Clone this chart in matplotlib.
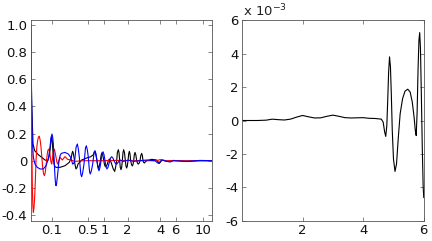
import matplotlib
matplotlib.use("Agg")
import matplotlib.pyplot as plt

plt.rcParams['font.family'] = ['DejaVu Sans']

# ---- left panel data (x in panel-relative units 0..100) ----
red_x = [0, 0.37, 0.92, 1.2, 1.47, 1.8, 2.21, 2.6, 2.95, 3.4, 3.87, 4.3, 4.79, 5.25, 5.71, 6.2,
         6.63, 7.1, 7.55, 8.0, 8.47, 8.9, 9.39, 9.75, 10.13, 10.5, 10.87, 11.2, 11.6, 12.0,
         12.34, 12.7, 13.08, 13.5, 14.0, 14.5, 14.92, 15.6, 16.21, 17.5, 18.97, 20.44, 22.1,
         24.49, 29.1, 38.31, 47.51, 56.72, 69.6, 71.5, 75.1, 100]
red_y = [1.0, 0.44, -0.2, -0.33, -0.38, -0.35, -0.27, -0.14, 0.0, 0.1, 0.15, 0.175, 0.18, 0.15,
         0.1, 0.02, -0.05, -0.095, -0.11, -0.09, -0.04, 0.02, 0.07, 0.083, 0.085, 0.06, 0.025,
         -0.01, -0.025, 0.01, 0.05, 0.078, 0.085, 0.06, 0.025, -0.01, -0.025, 0.0, 0.025, 0.005,
         0.03, 0.01, 0.005, -0.005, 0.0, 0.0, 0.002, 0.0, 0.0, 0.008, 0.0, 0.0]

blue_x = [0, 0.37, 0.92, 1.47, 2.39, 3.68, 5.16, 7.0, 8.47, 9.76, 10.68, 11.2, 11.79, 12.2,
          12.52, 12.9, 13.26, 13.6, 14.0, 14.35, 14.73, 15.2, 15.65, 16.3, 16.94, 18.97, 20.81,
          22.1, 22.65, 23.2, 23.75, 24.31, 24.7, 25.1, 25.78, 26.3, 26.89, 27.3, 27.7, 28.18,
          28.7, 29.47, 29.9, 30.3, 30.75, 31.3, 31.86, 32.3, 32.6, 32.96, 33.6, 34.25, 34.8,
          35.1, 35.54, 36.1, 36.65, 37.2, 37.75, 38.3, 38.86, 39.4, 39.96, 40.5, 41.07, 41.6,
          42.17, 42.8, 43.46, 44.1, 44.75, 45.4, 46.04, 46.8, 47.51, 49.35, 51.2, 53.96, 56.72,
          60.4, 64.09, 68.69, 70.53, 72.37, 76.98, 78.82, 86.19, 93.55, 100]
blue_y = [1.0, 0.56, 0.147, 0.025, -0.025, -0.049, -0.061, -0.061, -0.037, 0.012, 0.098, 0.17,
          0.196, 0.17, 0.123, 0.03, -0.074, -0.15, -0.184, -0.165, -0.123, -0.06, 0.0, 0.04,
          0.054, 0.061, 0.049, 0.025, 0.0, -0.025, -0.02, 0.0, 0.05, 0.1, 0.123, 0.09, 0.025,
          -0.04, -0.1, -0.118, -0.09, -0.025, 0.04, 0.095, 0.11, 0.08, 0.025, -0.05, -0.085,
          -0.098, -0.07, -0.025, 0.035, 0.065, 0.074, 0.05, 0.0, -0.055, -0.074, -0.05, 0.0,
          0.05, 0.066, 0.045, 0.0, -0.045, -0.061, -0.045, -0.012, 0.02, 0.029, 0.02, 0.0,
          -0.02, -0.025, 0.005, -0.005, 0.005, -0.005, 0.0, 0.005, 0.0, -0.02, 0.005, -0.01,
          0.0, -0.005, 0.002, 0.0]

black_x = [0, 0.55, 1.29, 2.21, 4.24, 6.08, 7.92, 9.39, 10.31, 10.7, 11.05, 11.35, 11.6, 11.9,
           12.15, 12.5, 12.89, 13.4, 14.0, 16.21, 18.97, 21.36, 22.47, 22.85, 23.2, 23.55,
           23.94, 24.5, 25.05, 25.6, 26.15, 28.18, 30.94, 33.15, 34.62, 35.1, 35.54, 36.0,
           36.46, 37.0, 37.57, 38.0, 38.49, 38.95, 39.41, 39.85, 40.33, 40.8, 41.25, 41.8,
           42.36, 42.9, 43.46, 44.1, 44.75, 45.6, 46.41, 46.9, 47.51, 47.9, 48.43, 48.8, 49.17,
           49.5, 49.9, 50.3, 50.64, 51.0, 51.38, 51.85, 52.3, 52.65, 53.04, 53.4, 53.78, 54.15,
           54.51, 54.9, 55.25, 55.7, 56.17, 56.55, 56.9, 57.25, 57.64, 58.1, 58.56, 59.0, 59.48,
           59.95, 60.4, 60.85, 61.32, 61.7, 62.06, 62.4, 62.8, 63.4, 64.09, 66.85, 69.61,
           71.09, 72.56, 75.14, 78.82, 86.19, 93.55, 100]
black_y = [1.0, 0.44, 0.123, 0.074, 0.044, 0.025, 0.005, 0.0, 0.037, 0.08, 0.123, 0.16, 0.172,
           0.15, 0.098, 0.03, -0.025, -0.042, -0.049, -0.049, -0.037, -0.012, 0.025, 0.055,
           0.069, 0.055, 0.025, -0.03, -0.061, -0.05, -0.025, 0.005, 0.02, 0.029, 0.044, 0.06,
           0.066, 0.045, 0.012, -0.035, -0.056, -0.035, 0.0, 0.042, 0.059, 0.04, 0.005, -0.03,
           -0.044, -0.04, -0.025, 0.0, 0.012, 0.0, -0.025, -0.06, -0.079, -0.05, 0.0, 0.06,
           0.081, 0.06, 0.0, -0.05, -0.066, -0.047, 0.0, 0.06, 0.081, 0.057, 0.0, -0.04,
           -0.054, -0.038, 0.0, 0.05, 0.069, 0.049, 0.0, -0.028, -0.039, -0.028, 0.0, 0.043,
           0.061, 0.043, 0.0, -0.018, -0.025, -0.018, 0.0, 0.038, 0.054, 0.038, 0.0, -0.012,
           -0.017, -0.008, 0.0, 0.01, 0.005, -0.02, 0.005, -0.005, 0.002, -0.005, 0.0, 0.0]

left_tick_pos = [11.6, 31.5, 40.7, 53.6, 71.5, 80.1, 95.4]
left_tick_labels = ["0.1", "0.5", "1", "2", "4", "6", "10"]
left_yticks = [-0.4, -0.2, 0, 0.2, 0.4, 0.6, 0.8, 1.0]
left_ytick_labels = ["-0.4", "-0.2", "0", "0.2", "0.4", "0.6", "0.8", "1.0"]

# ---- right panel data (y in units of 1e-3) ----
right_x = [0.0, 0.5, 0.8, 1.0, 1.2, 1.4, 1.6, 1.8, 2.0, 2.2, 2.4, 2.6, 2.8, 3.0, 3.2, 3.4, 3.6,
           3.8, 4.0, 4.2, 4.4, 4.6, 4.66, 4.71, 4.745, 4.78, 4.81, 4.84, 4.87, 4.9, 4.93, 4.96,
           5.0, 5.05, 5.1, 5.16, 5.22, 5.3, 5.38, 5.47, 5.55, 5.62, 5.68, 5.72, 5.75, 5.78,
           5.81, 5.84, 5.865, 5.89, 5.92, 5.95, 5.98, 6.0]
right_y_e3 = [0.0, 0.0, 0.02, 0.08, 0.05, 0.03, 0.08, 0.2, 0.3, 0.22, 0.15, 0.16, 0.25, 0.32,
              0.25, 0.17, 0.15, 0.16, 0.17, 0.13, 0.12, 0.08, -0.1, -0.7, -0.95, -0.3, 1.2,
              2.9, 3.8, 3.2, 1.5, -0.6, -2.3, -3.04, -2.6, -1.0, 0.4, 1.3, 1.75, 1.87, 1.7, 1.1,
              0.2, -0.6, -0.9, 0.5, 3.0, 4.8, 5.25, 4.3, 1.5, -1.6, -4.0, -4.6]
right_xticks = [2, 4, 6]
right_yticks = [-6, -4, -2, 0, 2, 4, 6]
right_ytick_labels = ["-6", "-4", "-2", "0", "2", "4", "6"]

fs = 9.5
fig = plt.figure(figsize=(4.32, 2.41), dpi=100)
ax1 = fig.add_axes([0.071, 0.083, 0.419, 0.834])
ax2 = fig.add_axes([0.560, 0.083, 0.421, 0.834])

lw = 0.8
ax1.plot(black_x, black_y, color='black', lw=lw)
ax1.plot(red_x, red_y, color='#ff0000', lw=lw)
ax1.plot(blue_x, blue_y, color='#0000ff', lw=lw)
ax1.set_xlim(0, 100)
ax1.set_ylim(-0.444, 1.036)
ax1.set_xticks(left_tick_pos)
ax1.set_xticklabels(left_tick_labels)
ax1.set_yticks(left_yticks)
ax1.set_yticklabels(left_ytick_labels)

ax2.plot(right_x, right_y_e3, color='black', lw=lw)
ax2.set_xlim(0, 6)
ax2.set_ylim(-6, 6)
ax2.set_xticks(right_xticks)
ax2.set_yticks(right_yticks)
ax2.set_yticklabels(right_ytick_labels)
ax2.text(0.005, 1.005, "x 10$^{-3}$", transform=ax2.transAxes, fontsize=fs,
         ha='left', va='bottom', color='#222222')

for ax in (ax1, ax2):
    ax.tick_params(direction='in', top=True, right=True, length=3, width=0.5,
                   labelsize=fs, colors='#555555', labelcolor='#111111', pad=2.5)
    for s in ax.spines.values():
        s.set_color('#555555')
        s.set_linewidth(0.6)

fig.savefig("out.png", dpi=100)
